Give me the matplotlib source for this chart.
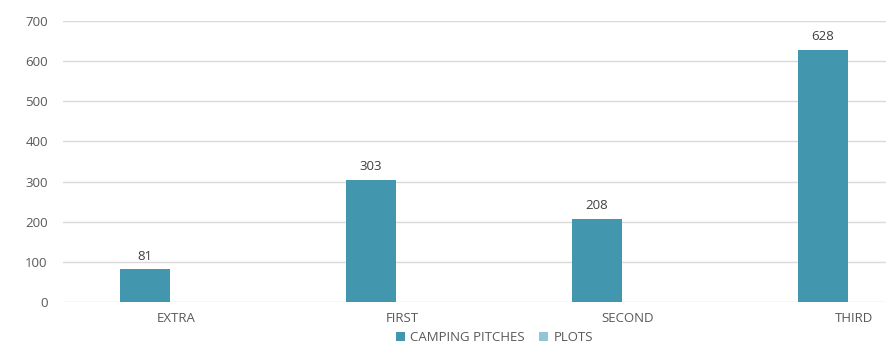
import matplotlib
matplotlib.use("Agg")
import matplotlib.pyplot as plt
import numpy as np

categories = ["EXTRA", "FIRST", "SECOND", "THIRD"]
camping_pitches = [81, 303, 208, 628]
plots = [0, 0, 0, 0]
series_names = ["CAMPING PITCHES", "PLOTS"]
y_ticks = [0, 100, 200, 300, 400, 500, 600, 700]

plt.rcParams["font.family"] = ["Open Sans", "DejaVu Sans"]
text_color = "#595959"
c_camp = "#4297AF"
c_plots = "#92C5D6"

fig = plt.figure(figsize=(8.94, 3.49), dpi=100)
ax = fig.add_axes([63 / 894, 47 / 349, (886 - 63) / 894, (302 - 21) / 349])

x = np.arange(len(categories))
bw = 0.222
off = 0.137
bars = ax.bar(x - off, camping_pitches, width=bw, color=c_camp, label=series_names[0], zorder=3)
ax.bar(x + off, plots, width=bw, color=c_plots, label=series_names[1], zorder=3)

for rect, v in zip(bars, camping_pitches):
    ax.annotate(str(v), (rect.get_x() + rect.get_width() / 2, v), xytext=(0, 5),
                textcoords="offset points", ha="center", va="bottom",
                fontsize=9.5, color="#404040")

ax.set_xlim(-0.5, -0.5 + (886 - 63) / 226)
ax.set_ylim(0, 700)
ax.set_yticks(y_ticks)
ax.set_xticks(x)
ax.set_xticklabels(categories)
ax.tick_params(axis="both", length=0, labelsize=9.5, labelcolor=text_color)
ax.tick_params(axis="y", pad=11)
ax.tick_params(axis="x", pad=7)
ax.grid(axis="y", color="#D9D9D9", linewidth=1, zorder=0)
for s in ax.spines.values():
    s.set_visible(False)

fig.legend(loc="lower center", bbox_to_anchor=(0.553, -0.02), ncol=2, frameon=False,
           fontsize=9.5, labelcolor=text_color, handlelength=0.7, handleheight=0.7,
           handletextpad=0.4, columnspacing=1.1)

fig.savefig("out.png", dpi=100)
